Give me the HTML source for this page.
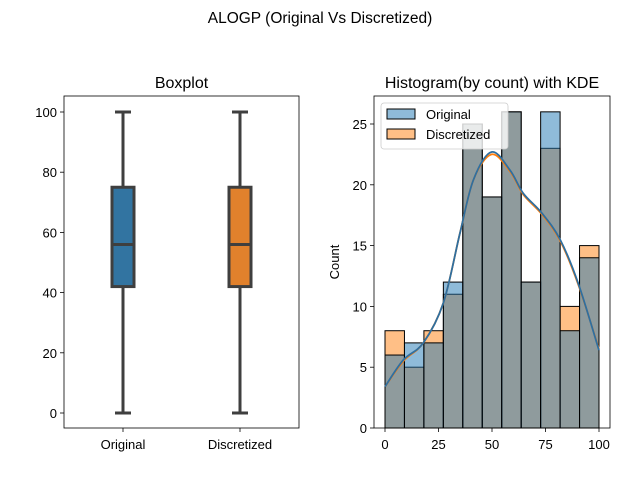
<!DOCTYPE html>
<html><head><meta charset="utf-8"><style>
body{margin:0;background:#fff}
svg text{font-family:"Liberation Sans","DejaVu Sans",sans-serif;fill:#000}
</style></head><body>
<svg id="fig" width="640" height="480" xmlns="http://www.w3.org/2000/svg">
<text x="320" y="23" font-size="15.5" text-anchor="middle">ALOGP (Original Vs Discretized)</text>
<g id="left"></g>
<g id="right"></g>
</svg>
<script>
const boxCategories = ["Original", "Discretized"];
const boxMin = [0, 0];
const boxQ1 = [42, 42];
const boxMedian = [56, 56];
const boxQ3 = [75, 75];
const boxMax = [100, 100];
const boxColors = ["#3274a1", "#e1812c"];
const boxYTicks = [0, 20, 40, 60, 80, 100];

const binEdges = [0, 9.09, 18.18, 27.27, 36.36, 45.45, 54.55, 63.64, 72.73, 81.82, 90.91, 100];
const originalCounts = [6, 7, 7, 12, 25, 19, 26, 12, 26, 8, 14];
const discretizedCounts = [8, 5, 8, 11, 25, 19, 26, 12, 23, 10, 15];
const kdeX = [0, 8.6, 17.9, 27.3, 35, 41.3, 49.8, 58.4, 64.6, 73.2, 81.8, 90.3, 100];
const kdeOriginal = [3.4, 5.6, 7.0, 10.3, 16, 20.4, 22.7, 21.2, 19.3, 17.7, 15.5, 11.9, 6.4];
const kdeDiscretized = [3.4, 5.5, 7.0, 10.3, 16, 20.4, 22.5, 21.1, 19.2, 17.6, 15.4, 11.8, 6.5];
const histXTicks = [0, 25, 50, 75, 100];
const histYTicks = [0, 5, 10, 15, 20, 25];

const NS = "http://www.w3.org/2000/svg";
function mk(parent, tag, attrs, text) {
  const e = document.createElementNS(NS, tag);
  for (const k in attrs) e.setAttribute(k, attrs[k]);
  if (text !== undefined) e.textContent = text;
  parent.appendChild(e);
  return e;
}
const L = document.getElementById('left');
const lx0 = 64, lx1 = 299, ly0 = 96, ly1 = 428;
const by = v => 413 - v * 3.01;
const bx = i => 123 + i * 117;
let t = mk(L, 'text', {x: (lx0 + lx1) / 2, y: 88, 'font-size': 16, 'text-anchor': 'middle'}, 'Boxplot');


boxYTicks.forEach(v => {
  mk(L, 'line', {x1: lx0 - 4, x2: lx0, y1: by(v), y2: by(v), stroke: '#000', 'stroke-width': 0.8});
  const tt = mk(L, 'text', {x: lx0 - 7, y: by(v) + 5, 'font-size': 13, 'text-anchor': 'end'}, v);
  
  
});
boxCategories.forEach((c, i) => {
  const x = bx(i);
  const g = mk(L, 'g', {});
  
  
  const st = {stroke: '#3f3f3f', 'stroke-width': 3};
  mk(g, 'line', Object.assign({x1: x, x2: x, y1: by(boxMax[i]), y2: by(boxQ3[i])}, st));
  mk(g, 'line', Object.assign({x1: x, x2: x, y1: by(boxQ1[i]), y2: by(boxMin[i])}, st));
  mk(g, 'line', Object.assign({x1: x - 8, x2: x + 8, y1: by(boxMax[i]), y2: by(boxMax[i])}, st));
  mk(g, 'line', Object.assign({x1: x - 8, x2: x + 8, y1: by(boxMin[i]), y2: by(boxMin[i])}, st));
  mk(g, 'rect', Object.assign({x: x - 11, y: by(boxQ3[i]), width: 22, height: by(boxQ1[i]) - by(boxQ3[i]), fill: boxColors[i]}, st));
  mk(g, 'line', Object.assign({x1: x - 11, x2: x + 11, y1: by(boxMedian[i]), y2: by(boxMedian[i])}, st));
  mk(L, 'line', {x1: x, x2: x, y1: ly1, y2: ly1 + 4, stroke: '#000', 'stroke-width': 0.8});
  const lt = mk(L, 'text', {x: x, y: 449, 'font-size': 13, 'text-anchor': 'middle'}, c);
  
  
});
mk(L, 'rect', {x: lx0, y: ly0, width: lx1 - lx0, height: ly1 - ly0, fill: 'none', stroke: '#000', 'stroke-width': 0.8});

const R = document.getElementById('right');
const rx0 = 374, rx1 = 610, ry0 = 96, ry1 = 428;
const hx = v => 385 + v * 2.14;
const hy = v => 428 - v * 12.16;
t = mk(R, 'text', {x: (rx0 + rx1) / 2, y: 88, 'font-size': 16, 'text-anchor': 'middle'}, 'Histogram(by count) with KDE');


histYTicks.forEach(v => {
  mk(R, 'line', {x1: rx0 - 4, x2: rx0, y1: hy(v), y2: hy(v), stroke: '#000', 'stroke-width': 0.8});
  const tt = mk(R, 'text', {x: rx0 - 7, y: hy(v) + 5, 'font-size': 13, 'text-anchor': 'end'}, v);
  
  
});
histXTicks.forEach(v => {
  mk(R, 'line', {x1: hx(v), x2: hx(v), y1: ry1, y2: ry1 + 4, stroke: '#000', 'stroke-width': 0.8});
  const tt = mk(R, 'text', {x: hx(v), y: 449, 'font-size': 13, 'text-anchor': 'middle'}, v);
  
  
});
t = mk(R, 'text', {x: 0, y: 0, 'font-size': 13, 'text-anchor': 'middle', transform: 'translate(339,262) rotate(-90)'}, 'Count');


function bars(counts, fill, name) {
  counts.forEach((c, i) => {
    const r = mk(R, 'rect', {x: hx(binEdges[i]), y: hy(c), width: hx(binEdges[i + 1]) - hx(binEdges[i]), height: hy(0) - hy(c), fill: fill, stroke: '#000', 'stroke-width': 1});
    
    
  });
}
bars(discretizedCounts, 'rgba(255,127,14,0.5)', 'discretized');
bars(originalCounts, 'rgba(31,119,180,0.5)', 'original');
function kde(ys, col, name) {
  const P = kdeX.map((x, i) => [hx(x), hy(ys[i])]);
  let d = 'M' + P[0][0].toFixed(1) + ',' + P[0][1].toFixed(1);
  for (let i = 0; i < P.length - 1; i++) {
    const p0 = P[Math.max(0, i - 1)], p1 = P[i], p2 = P[i + 1], p3 = P[Math.min(P.length - 1, i + 2)];
    const c1 = [p1[0] + (p2[0] - p0[0]) / 6, p1[1] + (p2[1] - p0[1]) / 6];
    const c2 = [p2[0] - (p3[0] - p1[0]) / 6, p2[1] - (p3[1] - p1[1]) / 6];
    d += ' C' + c1.map(v => v.toFixed(1)).join(',') + ' ' + c2.map(v => v.toFixed(1)).join(',') + ' ' + p2.map(v => v.toFixed(1)).join(',');
  }
  const p = mk(R, 'path', {d: d, fill: 'none', stroke: col, 'stroke-width': 1.8, 'stroke-linejoin': 'round'});
  
  
}
kde(kdeDiscretized, '#ff7f0e', 'discretized');
kde(kdeOriginal, '#2f6fa0', 'original');
mk(R, 'rect', {x: rx0, y: ry0, width: rx1 - rx0, height: ry1 - ry0, fill: 'none', stroke: '#000', 'stroke-width': 0.8});
const lg = mk(R, 'g', {});


mk(lg, 'rect', {x: 381, y: 103, width: 127, height: 46, rx: 3, fill: 'rgba(255,255,255,0.8)', stroke: '#ccc', 'stroke-width': 0.8});
[['Original', 'rgba(31,119,180,0.5)'], ['Discretized', 'rgba(255,127,14,0.5)']].forEach((e, i) => {
  const ey = 114 + i * 20;
  mk(lg, 'rect', {x: 387, y: ey - 5, width: 28, height: 10, fill: e[1], stroke: '#000', 'stroke-width': 1});
  const lt = mk(lg, 'text', {x: 426, y: ey + 5, 'font-size': 13}, e[0]);
  
  
});
</script>
</body></html>
